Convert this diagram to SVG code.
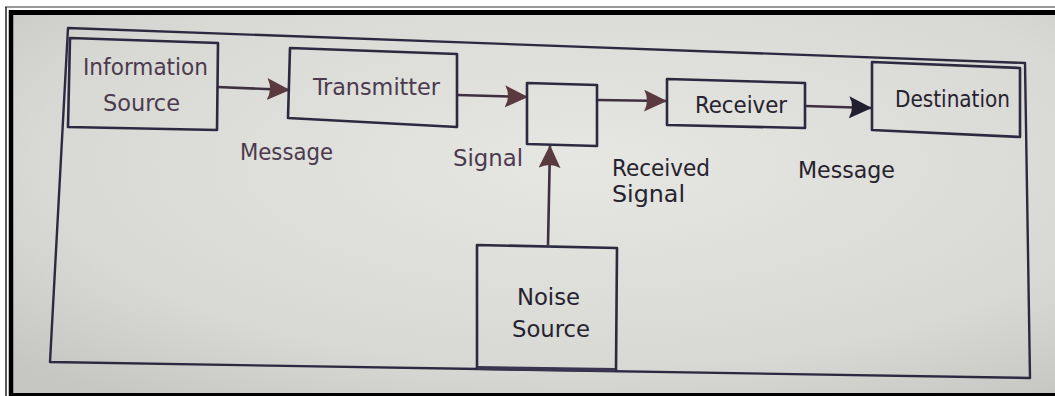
<svg xmlns="http://www.w3.org/2000/svg" width="1055" height="396" viewBox="0 0 1055 396">
<defs>
<radialGradient id="paper" cx="0.55" cy="0.4" r="0.75">
<stop offset="0" stop-color="#e6e6e2"/>
<stop offset="0.7" stop-color="#d8d8d4"/>
<stop offset="1" stop-color="#c6c6c2"/>
</radialGradient>
<marker id="ahB" markerUnits="userSpaceOnUse" markerWidth="26" markerHeight="24" refX="23" refY="11" orient="auto" viewBox="0 0 26 24">
<path d="M0,0 L23,11 L0,22 Q6,11 0,0 Z" fill="#5a3a3e"/>
</marker>
<marker id="ahK" markerUnits="userSpaceOnUse" markerWidth="26" markerHeight="24" refX="23" refY="11" orient="auto" viewBox="0 0 26 24">
<path d="M0,0 L23,11 L0,22 Q6,11 0,0 Z" fill="#222030"/>
</marker>
</defs>
<style>
.box{fill:none;stroke:#2c2a40;stroke-width:2.6;stroke-linejoin:round}
.conn{fill:none;stroke:#3e3040;stroke-width:2.6}
.t{font-family:"DejaVu Sans Condensed","DejaVu Sans",sans-serif;font-size:23px;font-weight:500}
.p{fill:#4b3a4e}
.d{fill:#26222e}
</style>
<rect x="0" y="0" width="1055" height="396" fill="#ffffff"/>
<rect x="9" y="10" width="1046" height="386" fill="url(#paper)"/>
<g id="frame">
<line x1="5" y1="7" x2="1055" y2="7" stroke="#333" stroke-width="1.2"/>
<line x1="6" y1="7" x2="6" y2="396" stroke="#222" stroke-width="1.5"/>
<line x1="9" y1="12.5" x2="1055" y2="12.5" stroke="#000" stroke-width="5"/>
<line x1="11" y1="10" x2="11" y2="396" stroke="#000" stroke-width="4.5"/>
<line x1="9" y1="394.5" x2="1055" y2="394.5" stroke="#000" stroke-width="3"/>
<polygon points="68,28 1025,63 1030,378 50,362" fill="none" stroke="#2c2a40" stroke-width="2.4" stroke-linejoin="round"/>
</g>
<g id="connectors">
<line class="conn" x1="217" y1="87" x2="290" y2="90" marker-end="url(#ahB)"/>
<line class="conn" x1="457" y1="95" x2="528" y2="97" marker-end="url(#ahB)"/>
<line class="conn" x1="597" y1="100" x2="667" y2="101" marker-end="url(#ahB)"/>
<line class="conn" x1="805" y1="106" x2="872" y2="108" marker-end="url(#ahK)" stroke="#26222e"/>
<line class="conn" x1="548" y1="245" x2="550" y2="145" marker-end="url(#ahB)"/>
</g>
<g id="info-source">
<polygon class="box" points="70,38 218,43 217,130 68,127"/>
<text class="t p" x="83" y="75" textLength="125" lengthAdjust="spacingAndGlyphs">Information</text>
<text class="t p" x="103" y="111" textLength="77" lengthAdjust="spacingAndGlyphs">Source</text>
</g>
<g id="transmitter">
<polygon class="box" points="290,48 457,54 457,127 288,118"/>
<text class="t p" x="313" y="95" textLength="127" lengthAdjust="spacingAndGlyphs">Transmitter</text>
</g>
<g id="channel">
<polygon class="box" points="527,83 597,85 597,146 527,144"/>
</g>
<g id="receiver">
<polygon class="box" points="667,79 805,83 805,128 667,125"/>
<text class="t d" x="695" y="113" textLength="92" lengthAdjust="spacingAndGlyphs">Receiver</text>
</g>
<g id="destination">
<polygon class="box" points="872,62 1020,68 1020,137 872,130"/>
<text class="t d" x="895" y="107" textLength="115" lengthAdjust="spacingAndGlyphs">Destination</text>
</g>
<g id="noise-source">
<polygon class="box" points="477,245 617,248 616,370 477,368"/>
<line x1="478" y1="368" x2="615" y2="370" stroke="#3a3450" stroke-width="4"/>
<text class="t d" x="517" y="305" textLength="63" lengthAdjust="spacingAndGlyphs">Noise</text>
<text class="t d" x="512" y="337" textLength="78" lengthAdjust="spacingAndGlyphs">Source</text>
</g>
<g id="labels">
<text class="t p" x="240" y="160" textLength="93" lengthAdjust="spacingAndGlyphs">Message</text>
<text class="t p" x="453" y="166" textLength="70" lengthAdjust="spacingAndGlyphs">Signal</text>
<text class="t d" x="612" y="176" textLength="98" lengthAdjust="spacingAndGlyphs">Received</text>
<text class="t d" x="612" y="202" textLength="73" lengthAdjust="spacingAndGlyphs">Signal</text>
<text class="t d" x="798" y="178" textLength="97" lengthAdjust="spacingAndGlyphs">Message</text>
</g>
</svg>
